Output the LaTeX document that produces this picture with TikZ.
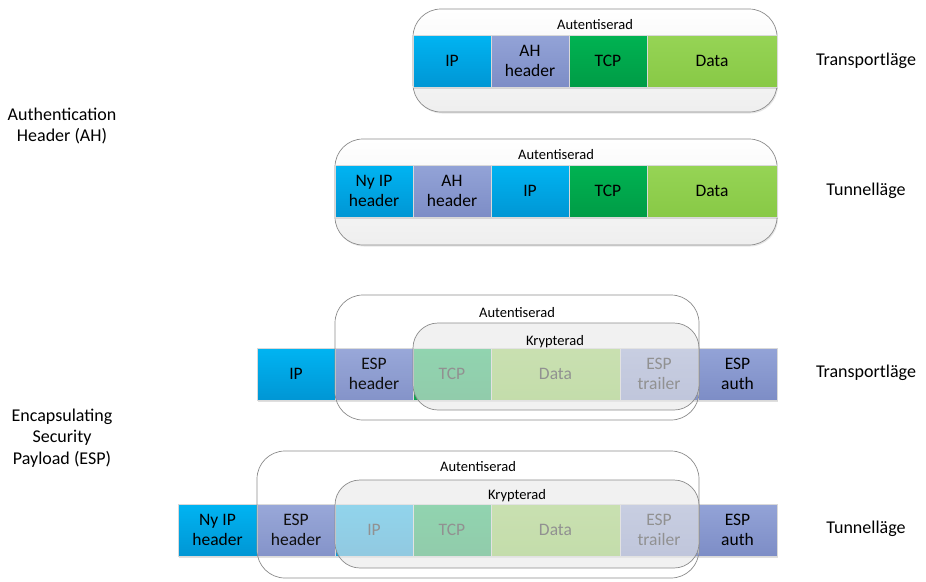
\documentclass[tikz,border=0pt]{standalone}
\usepackage{fontspec}
\setmainfont{Carlito}
\usetikzlibrary{shadows}
\definecolor{ipA}{HTML}{00B4F2}
\definecolor{ipB}{HTML}{0096D4}
\definecolor{ahA}{HTML}{93A3D7}
\definecolor{ahB}{HTML}{7D8DC6}
\definecolor{tcpA}{HTML}{00B352}
\definecolor{tcpB}{HTML}{009C46}
\definecolor{daA}{HTML}{96D455}
\definecolor{daB}{HTML}{88C946}
\definecolor{bord}{HTML}{8C8C8C}
\definecolor{veil}{HTML}{E8E8E8}
\newcommand\blk[6]{%
  \node[blk,#5,minimum width={(#3-#2)*1pt}] (#1) at ({(#2+#3)/2},#4+26) {#6};}
\begin{document}
\begin{tikzpicture}[x=1pt,y=-1pt,
  blk/.style={inner sep=0pt, outer sep=0pt, minimum height=52pt, align=center,
    font=\fontsize{17.5}{20.5}\selectfont, draw=white!70!gray, line width=0.5pt,
    drop shadow={shadow xshift=0.8pt, shadow yshift=-1.5pt, opacity=0.25}},
  ip/.style={top color=ipA, bottom color=ipB},
  ah/.style={top color=ahA, bottom color=ahB},
  tcp/.style={top color=tcpA, bottom color=tcpB},
  da/.style={top color=daA, bottom color=daB},
  frame/.style={draw=bord, line width=0.7pt, rounded corners=28pt, inner sep=0pt,
    top color=white, bottom color=gray!13,
    drop shadow={shadow xshift=1pt, shadow yshift=-1.5pt, opacity=0.2}},
  authbox/.style={draw=bord, line width=0.7pt, rounded corners=28pt, inner sep=0pt,
    fill=white, fill opacity=0.06},
  cryptbox/.style={draw=bord, line width=0.7pt, rounded corners=25pt, inner sep=0pt,
    fill=veil, fill opacity=0.6},
  tag/.style={font=\fontsize{14.5}{17}\selectfont, inner sep=0pt},
  side/.style={font=\fontsize{18}{21.5}\selectfont, align=center, inner sep=0pt},
  ]
\useasboundingbox (0,0) rectangle (926,581);

% Left labels
\node[side] (ahlbl) at (62,126) {Authentication\\Header (AH)};
\node[side] (esplbl) at (62,438) {Encapsulating\\Security\\Payload (ESP)};

% Right labels
\node[side] (m1) at (866,61) {Transportläge};
\node[side] (m2) at (866,191) {Tunnelläge};
\node[side] (m3) at (866,373) {Transportläge};
\node[side] (m4) at (866,529) {Tunnelläge};

% Row 1: AH transport
\node[frame, minimum width=364pt, minimum height=103pt] (f1) at (595,60.5) {};
\node[tag] (t1) at (595,25) {Autentiserad};
\blk{r1ip}{413}{491}{35}{ip}{IP}
\blk{r1ah}{491}{569}{35}{ah}{AH\\header}
\blk{r1tcp}{569}{647}{35}{tcp}{TCP}
\blk{r1da}{647}{777}{35}{da}{Data}

% Row 2: AH tunnel
\node[frame, minimum width=442pt, minimum height=106pt] (f2) at (556,192) {};
\node[tag] (t2) at (556,155) {Autentiserad};
\blk{r2ny}{335}{413}{165}{ip}{Ny IP\\header}
\blk{r2ah}{413}{491}{165}{ah}{AH\\header}
\blk{r2ip}{491}{569}{165}{ip}{IP}
\blk{r2tcp}{569}{647}{165}{tcp}{TCP}
\blk{r2da}{647}{777}{165}{da}{Data}

% Row 3: ESP transport
\blk{r3ip}{257}{335}{348}{ip}{IP}
\blk{r3eh}{335}{413}{348}{ah}{ESP\\header}
\blk{r3tcp}{413}{491}{348}{tcp}{TCP}
\blk{r3da}{491}{620}{348}{da}{Data}
\blk{r3et}{620}{698}{348}{ah}{ESP\\trailer}
\blk{r3ea}{698}{777}{348}{ah}{ESP\\auth}
\node[authbox, minimum width=364pt, minimum height=125pt] (a3) at (517,357.5) {};
\node[cryptbox, minimum width=286pt, minimum height=87pt] (c3) at (556,366.5) {};
\node[tag] (t3a) at (517,313) {Autentiserad};
\node[tag] (t3c) at (555,342) {Krypterad};

% Row 4: ESP tunnel
\blk{r4ny}{178}{257}{504}{ip}{Ny IP\\header}
\blk{r4eh}{257}{335}{504}{ah}{ESP\\header}
\blk{r4ip}{335}{413}{504}{ip}{IP}
\blk{r4tcp}{413}{491}{504}{tcp}{TCP}
\blk{r4da}{491}{620}{504}{da}{Data}
\blk{r4et}{620}{698}{504}{ah}{ESP\\trailer}
\blk{r4ea}{698}{777}{504}{ah}{ESP\\auth}
\node[authbox, minimum width=442pt, minimum height=127pt] (a4) at (478,514.5) {};
\node[cryptbox, minimum width=364pt, minimum height=88pt] (c4) at (517,524) {};
\node[tag] (t4a) at (478,467) {Autentiserad};
\node[tag] (t4c) at (517,496) {Krypterad};
\end{tikzpicture}
\end{document}
